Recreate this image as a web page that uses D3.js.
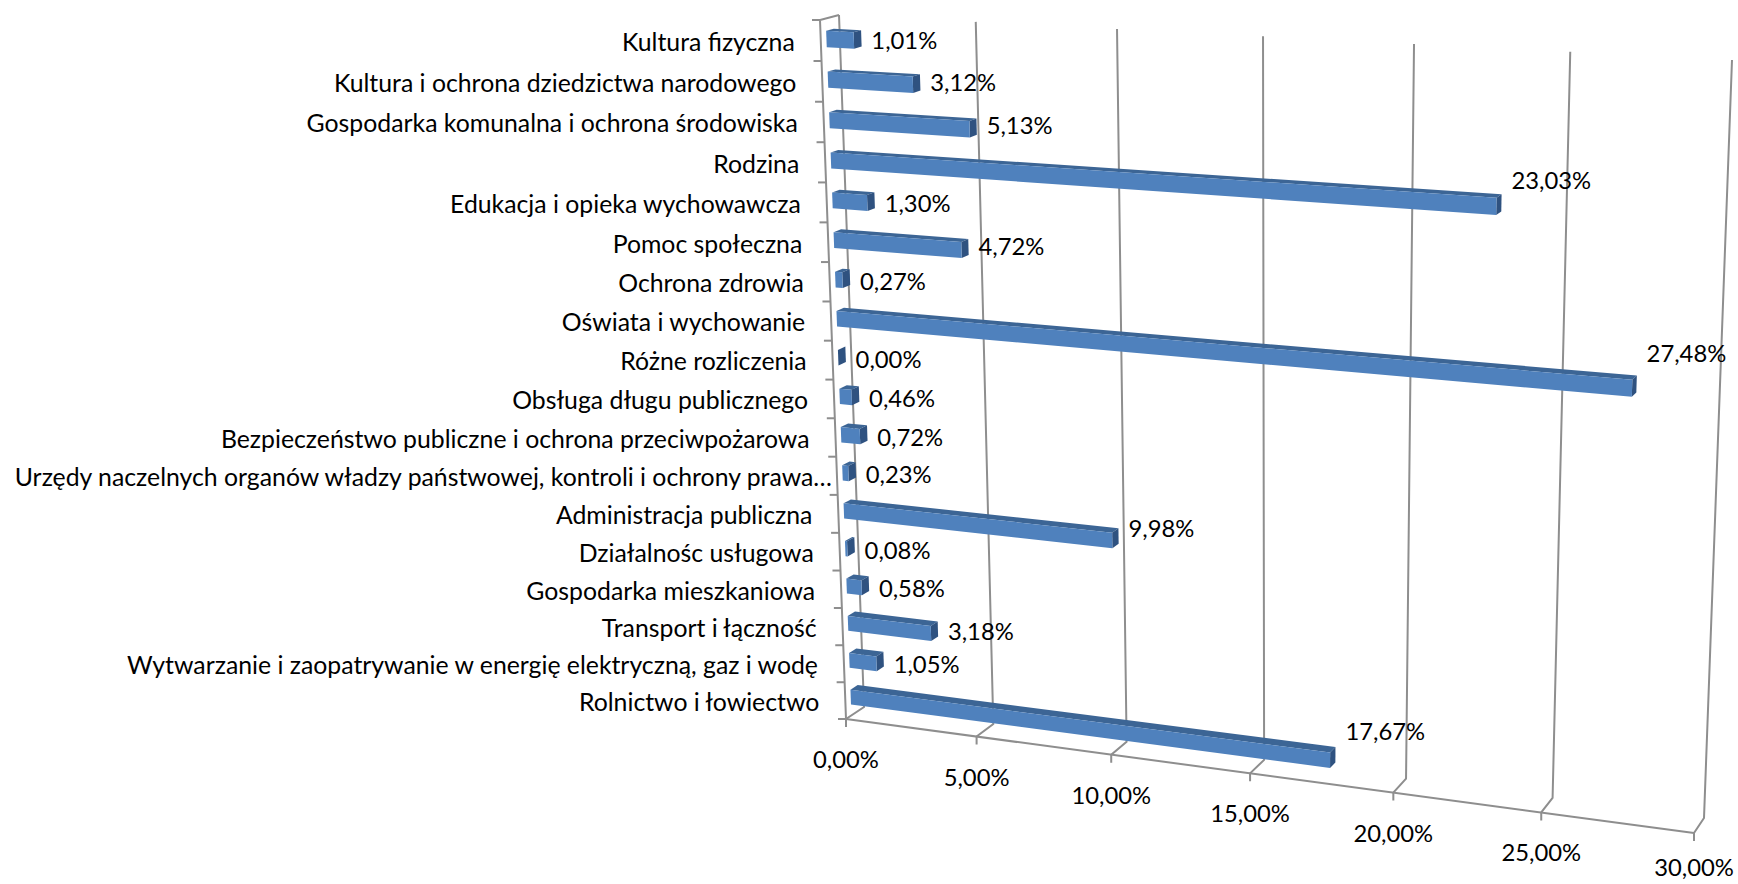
<!DOCTYPE html>
<html><head><meta charset="utf-8">
<script src="https://cdn.jsdelivr.net/npm/d3@7"></script>
<style>html,body{margin:0;padding:0;background:#fff}svg{display:block}text{font-family:Lato,sans-serif;fill:#000}</style>
</head><body><svg id="c" width="1738" height="884"></svg>
<script>
const categories = ["Kultura fizyczna","Kultura i ochrona dziedzictwa narodowego","Gospodarka komunalna i ochrona środowiska","Rodzina","Edukacja i opieka wychowawcza","Pomoc społeczna","Ochrona zdrowia","Oświata i wychowanie","Różne rozliczenia","Obsługa długu publicznego","Bezpieczeństwo publiczne i ochrona przeciwpożarowa","Urzędy naczelnych organów władzy państwowej, kontroli i ochrony prawa…","Administracja publiczna","Działalnośc usługowa","Gospodarka mieszkaniowa","Transport i łączność","Wytwarzanie i zaopatrywanie w energię elektryczną, gaz i wodę","Rolnictwo i łowiectwo"];
const values = [1.01,3.12,5.13,23.03,1.30,4.72,0.27,27.48,0.00,0.46,0.72,0.23,9.98,0.08,0.58,3.18,1.05,17.67];
const valueTicks = [0,5,10,15,20,25,30];

// box corners of the 3D plot on screen [top-left, top-right, bottom-right, bottom-left]
const frontQuad = [[820,20],[1721,68],[1694,833],[846,719]];
const backQuad  = [[839,15],[1732,60],[1704,818],[864,707]];
const barDepth = [0.3,0.7];
const colors = {front:"#4f81bd", top:"#3c6595", side:"#2f5280", grid:"#8e8e8e"};
const categoryFont = 24.8, numberFont = 23.8;
// extra upward shift of some data labels, by category index
const labelLift = {7:6, 17:11, 3:2, 12:2};

function homography(q){
  const [[x0,y0],[x1,y1],[x2,y2],[x3,y3]] = q;
  const dx1=x1-x2, dx2=x3-x2, sx=x0-x1+x2-x3, dy1=y1-y2, dy2=y3-y2, sy=y0-y1+y2-y3;
  const den=dx1*dy2-dx2*dy1, g=(sx*dy2-dx2*sy)/den, h=(dx1*sy-sx*dy1)/den;
  const a=x1-x0+g*x1, b=x3-x0+h*x3, d=y1-y0+g*y1, e=y3-y0+h*y3;
  return (u,t)=>{const w=g*u+h*t+1; return [(a*u+b*t+x0)/w,(d*u+e*t+y0)/w];};
}
const hFront = homography(frontQuad), hBack = homography(backQuad);
const project = (u,t,z)=>{const f=hFront(u,t), b=hBack(u,t); return [f[0]+(b[0]-f[0])*z, f[1]+(b[1]-f[1])*z];};

const xU = d3.scaleLinear().domain([0,30]).range([0,1]);
const yT = d3.scaleBand().domain(categories).range([0,1]).paddingInner(0.6).paddingOuter(0.3);
const step = yT.step();
const line = d3.line();
const svg = d3.select("#c");
const pct = v => d3.format(".2f")(v).replace(".",",")+"%";

// grid: tick, floor segment, back wall line
const g = svg.append("g").attr("fill","none").attr("stroke",colors.grid).attr("stroke-width",2);
g.selectAll("path.v").data(valueTicks).join("path").attr("class","v").attr("d",v=>{
  const u=xU(v), a=project(u,1,0);
  return line([[a[0],a[1]+8],a,project(u,1,1),project(u,0,1)]);
});
g.append("path").attr("d",line([project(0,0,1),project(0,0,0),project(0,1,0)]));
g.append("path").attr("d",line([project(0,1,0),project(1,1,0)]));
g.selectAll("path.c").data(d3.range(categories.length+1)).join("path").attr("class","c").attr("d",i=>{
  const a=project(0,i*step,0); return line([[a[0]-8,a[1]],a]);
});

// bars
const [z0,z1]=barDepth;
const bars = svg.append("g").selectAll("g").data(categories).join("g");
const poly = pts => line(pts)+"Z";
const rows = categories.map((c,i)=>({i,c,v:values[i],u:xU(values[i]),t0:yT(c),t1:yT(c)+yT.bandwidth()}));
bars.data(rows).append("path").attr("fill",colors.top).attr("d",r=>poly([project(0,r.t0,z0),project(r.u,r.t0,z0),project(r.u,r.t0,z1),project(0,r.t0,z1)]));
bars.append("path").attr("fill",colors.side).attr("d",r=>poly([project(r.u,r.t0,z0),project(r.u,r.t0,z1),project(r.u,r.t1,z1),project(r.u,r.t1,z0)]));
bars.append("path").attr("fill",colors.front).attr("d",r=>poly([project(0,r.t0,z0),project(r.u,r.t0,z0),project(r.u,r.t1,z0),project(0,r.t1,z0)]));

// category labels
svg.append("g").attr("font-size",categoryFont).attr("text-anchor","end").selectAll("text").data(categories).join("text")
  .attr("dominant-baseline","middle")
  .attr("x",c=>project(0,yT(c)+yT.bandwidth()/2,0)[0]-26+(c.endsWith("…")?21:0))
  .attr("y",c=>project(0,yT(c)+yT.bandwidth()/2,0)[1]+4)
  .text(c=>c);

// data labels
svg.append("g").attr("font-size",numberFont).selectAll("text").data(rows).join("text")
  .attr("dominant-baseline","middle")
  .attr("x",r=>project(r.u,(r.t0+r.t1)/2,z1)[0]+10)
  .attr("y",r=>project(r.u,(r.t0+r.t1)/2,z0)[1]-1.1*r.v+4-(labelLift[r.i]||0))
  .text(r=>pct(r.v));

// value tick labels, kept inside the picture at the bottom
svg.append("g").attr("font-size",numberFont).attr("text-anchor","middle").selectAll("text").data(valueTicks).join("text")
  .attr("dominant-baseline","middle")
  .attr("x",v=>project(xU(v),1,0)[0])
  .attr("y",v=>Math.min(project(xU(v),1,0)[1]+43,870))
  .text(pct);
</script></body></html>
